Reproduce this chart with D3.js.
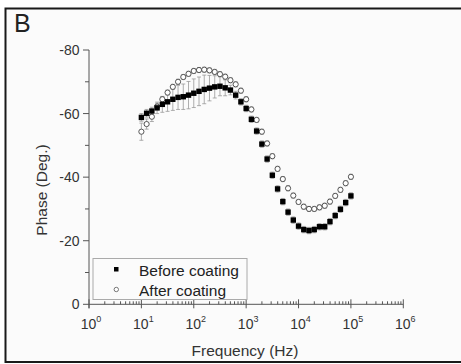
<!DOCTYPE html>
<html><head><meta charset="utf-8">
<script src="https://cdn.jsdelivr.net/npm/d3@7"></script>
<style>body{margin:0;background:#fff;}svg{display:block;font-family:"Liberation Sans",Arial,sans-serif;}</style>
</head><body>
<svg id="c" width="461" height="364"></svg>
<script>
// index i -> frequency 10^(1 + i/10)
const freqIndex = d3.range(41);
const beforePhase = [-58.8,-60.1,-60.8,-61.8,-62.9,-63.7,-64.5,-65.1,-65.3,-65.8,-66.4,-67.0,-67.6,-68.0,-68.4,-68.6,-68.1,-67.4,-65.8,-63.7,-61.6,-58.2,-54.5,-50.4,-45.7,-40.6,-36.3,-32.3,-29.0,-26.5,-24.6,-23.5,-23.2,-23.5,-24.4,-24.4,-26.0,-27.9,-29.9,-32.0,-34.1];
const beforeErr = [1.2,1.2,1.2,1.8,2.5,3.0,3.5,3.8,4.0,4.3,4.5,4.5,4.5,4.0,3.5,3.0,2.5,1.5,1.2,1.0,1.0,1.0,1.0,1.0,1.0,1.0,1.0,1.0,1.0,1.0,1.0,1.0,1.0,1.0,1.0,1.0,1.0,1.0,1.0,1.0,1.0];
const afterPhase = [-54.3,-56.7,-59.0,-62.2,-64.5,-66.6,-68.4,-70.0,-71.5,-72.5,-73.4,-73.7,-73.8,-73.6,-73.1,-72.4,-71.6,-70.5,-69.2,-67.2,-64.5,-61.3,-58.0,-54.3,-50.6,-46.6,-42.6,-39.4,-36.5,-34.2,-32.2,-30.7,-30.0,-30.0,-30.5,-31.0,-32.3,-34.1,-36.0,-38.1,-40.1];
const afterErr = [2.7,1.6,1.5,1.0,0.8,0.8,0.8,0.8,0.8,0.8,0.8,0.8,0.8,0.8,0.8,0.8,0.8,0.8,0.8,0.8,0.8,0.8,0.8,0.8,0.8,0.8,0.8,0.8,0.8,0.8,0.8,0.8,0.8,0.8,0.8,0.8,0.8,0.8,0.8,0.8,0.8];
const yTicks = [0,-20,-40,-60,-80];
const yMinor = [-10,-30,-50,-70];
const xTickExp = [0,1,2,3,4,5,6];
const seriesNames = ["Before coating","After coating"];
const freqs = freqIndex.map(i => Math.pow(10, 1 + i/10));

const svg = d3.select("#c");
// background & frame
svg.append("rect").attr("x",5).attr("y",8).attr("width",456).attr("height",355).attr("fill","#fbfbfb");
svg.append("path").attr("d","M5.5,363 V8.5 H461").attr("fill","none").attr("stroke","#1a1a1a").attr("stroke-width",2);
svg.append("line").attr("x1",5).attr("x2",461).attr("y1",362).attr("y2",362).attr("stroke","#1a1a1a").attr("stroke-width",2);

svg.append("text").attr("x",14).attr("y",32).attr("font-size",25).attr("fill","#222").text("B");

const x = d3.scaleLog().domain([1,1e6]).range([89,403.3]);
const y = d3.scaleLinear().domain([0,-80]).range([304.3,50]);
const axisCol = "#555";
const g = svg.append("g");

// y axis
g.append("line").attr("x1",89).attr("x2",89).attr("y1",y(-80)).attr("y2",y(0)+4).attr("stroke",axisCol);
yTicks.forEach(t=>{
  g.append("line").attr("x1",83).attr("x2",89).attr("y1",y(t)).attr("y2",y(t)).attr("stroke",axisCol);
  g.append("text").attr("x",79.5).attr("y",y(t)+5).attr("text-anchor","end").attr("font-size",14).attr("fill","#333").text(t);
});
yMinor.forEach(t=>{
  g.append("line").attr("x1",85).attr("x2",89).attr("y1",y(t)).attr("y2",y(t)).attr("stroke",axisCol);
});
// x axis
g.append("line").attr("x1",89).attr("x2",403.3).attr("y1",y(0)).attr("y2",y(0)).attr("stroke",axisCol);
xTickExp.forEach(e=>{
  const px = x(Math.pow(10,e));
  g.append("line").attr("x1",px).attr("x2",px).attr("y1",y(0)-5).attr("y2",y(0)+4).attr("stroke",axisCol);
  const t = g.append("text").attr("x",px+2).attr("y",329).attr("text-anchor","middle").attr("font-size",14).attr("fill","#333");
  t.append("tspan").text("10");
  t.append("tspan").attr("dy",-7).attr("font-size",9).text(e);
  if(e<6){
    for(let m=2;m<10;m++){
      const mx = x(m*Math.pow(10,e));
      g.append("line").attr("x1",mx).attr("x2",mx).attr("y1",y(0)-3).attr("y2",y(0)).attr("stroke",axisCol);
    }
  }
});
svg.append("text").attr("x",245).attr("y",356).attr("text-anchor","middle").attr("font-size",15.5).attr("fill","#333").text("Frequency (Hz)");
svg.append("text").attr("transform","translate(47,190) rotate(-90)").attr("text-anchor","middle").attr("font-size",15.5).attr("fill","#333").text("Phase (Deg.)");

// error bars
function errBars(vals, errs){
  const eg = svg.append("g").attr("stroke","#999").attr("stroke-width",0.8);
  freqs.forEach((f,i)=>{
    const px = x(f), y1 = y(vals[i]-errs[i]), y2 = y(vals[i]+errs[i]);
    eg.append("line").attr("x1",px).attr("x2",px).attr("y1",y1).attr("y2",y2);
    eg.append("line").attr("x1",px-2).attr("x2",px+2).attr("y1",y1).attr("y2",y1);
    eg.append("line").attr("x1",px-2).attr("x2",px+2).attr("y1",y2).attr("y2",y2);
  });
}
errBars(afterPhase, afterErr);
errBars(beforePhase, beforeErr);

svg.append("g").selectAll("circle").data(freqs).join("circle")
  .attr("cx",d=>x(d)).attr("cy",(d,i)=>y(afterPhase[i])).attr("r",2.6)
  .attr("fill","#fff").attr("stroke","#444").attr("stroke-width",0.9);
svg.append("g").selectAll("rect").data(freqs).join("rect")
  .attr("x",d=>x(d)-2.7).attr("y",(d,i)=>y(beforePhase[i])-2.7).attr("width",5.4).attr("height",5.4)
  .attr("fill","#000");

// legend
svg.append("rect").attr("x",93).attr("y",258.5).attr("width",154).attr("height",41).attr("fill","#fbfbfb").attr("stroke","#aaa");
svg.append("rect").attr("x",114).attr("y",267).attr("width",4.5).attr("height",4.5).attr("fill","#000");
svg.append("circle").attr("cx",116.3).attr("cy",289.5).attr("r",2.2).attr("fill","#fff").attr("stroke","#555").attr("stroke-width",0.8);
svg.append("text").attr("x",139).attr("y",275.5).attr("font-size",15.5).attr("fill","#222").text(seriesNames[0]);
svg.append("text").attr("x",139).attr("y",295.5).attr("font-size",15.5).attr("fill","#222").text(seriesNames[1]);
</script>
</body></html>
